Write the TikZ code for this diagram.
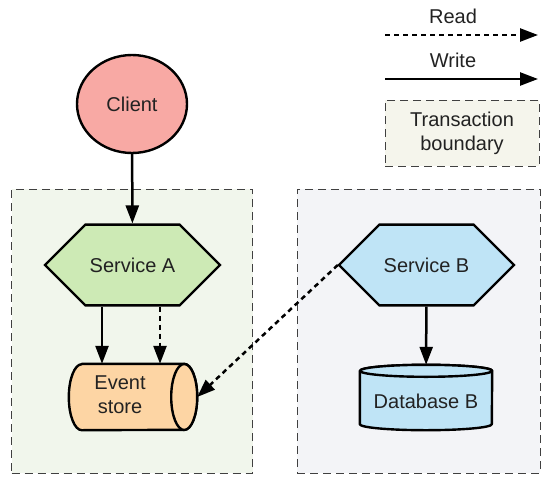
\documentclass[tikz,border=0pt]{standalone}
\usepackage{fontspec}
\setmainfont{Liberation Sans}
\usetikzlibrary{shapes.geometric,shapes.misc,arrows.meta}
\definecolor{bndA}{HTML}{F1F6EC}
\definecolor{bndB}{HTML}{F3F4F7}
\definecolor{bndL}{HTML}{F5F5EC}
\definecolor{clientfill}{HTML}{F8A9A4}
\definecolor{safill}{HTML}{CDEAB5}
\definecolor{esfill}{HTML}{FDD5A4}
\definecolor{sbfill}{HTML}{BFE4F6}
\definecolor{txt}{HTML}{222222}
\tikzset{
  boundary/.style={draw=black!75, line width=1pt, dash pattern=on 8pt off 5pt},
  svc/.style={chamfered rectangle, chamfered rectangle xsep=35pt, chamfered rectangle ysep=33pt,
    minimum width=175pt, minimum height=66pt, inner sep=0pt, draw=black, line width=2.4pt, text=txt},
  lbl/.style={font=\fontsize{20}{24}\selectfont, text=txt},
  wr/.style={line width=2.5pt, -{Triangle[length=18pt,width=13pt]}},
  rd/.style={line width=2.5pt, dash pattern=on 5pt off 4pt, -{Triangle[length=18pt,width=13pt]}},
  outline/.style={draw=black, line width=2.4pt, line join=round},
  holder/.style={rectangle, inner sep=0pt, draw=none},
}
\begin{document}
\begin{tikzpicture}[x=1pt,y=1pt]
\useasboundingbox[fill=white] (0,0) rectangle (554,-479);
% boundaries
\node[boundary, fill=bndA, minimum width=241pt, minimum height=284pt, inner sep=0pt] (bA) at (132,-331) {};
\node[boundary, fill=bndB, minimum width=243pt, minimum height=284pt, inner sep=0pt] (bB) at (418.5,-331) {};
% legend
\node[lbl] (rdt) at (453,-16) {Read};
\node[lbl] (wrt) at (453,-60) {Write};
\coordinate (r1) at (385,-35);
\coordinate (r2) at (538,-35);
\coordinate (w1) at (385,-79);
\coordinate (w2) at (538,-79);
\draw[rd] (r1) -- (r2);
\draw[wr] (w1) -- (w2);
\node[boundary, fill=bndL, minimum width=154pt, minimum height=66pt, inner sep=0pt, lbl, align=center] (leg) at (462,-133) {Transaction\\boundary};
% nodes
\node[ellipse, draw=black, line width=2.4pt, fill=clientfill, minimum width=110pt, minimum height=98pt, lbl] (cl) at (132,-104) {Client};
\node[svc, fill=safill, lbl] (sa) at (132.5,-265) {Service A};
\node[svc, fill=sbfill, lbl] (sb) at (426.5,-265) {Service B};
% Event store (horizontal cylinder)
\node[holder, minimum width=128pt, minimum height=66pt] (es) at (133,-397) {};
\draw[outline, fill=esfill] ([xshift=13pt]es.north west) -- ([xshift=-13pt]es.north east)
  arc[start angle=90, end angle=-90, x radius=13pt, y radius=33pt]
  -- ([xshift=13pt]es.south west)
  arc[start angle=270, end angle=90, x radius=13pt, y radius=33pt] -- cycle;
\draw[outline, fill=esfill] ([xshift=-13pt]es.east) ellipse[x radius=13pt, y radius=33pt];
\node[lbl, align=center] (est) at (120,-395) {Event\\store};
% Database B (vertical cylinder)
\node[holder, minimum width=132pt, minimum height=65pt] (db) at (426,-397.5) {};
\draw[outline, fill=sbfill] ([yshift=-6pt]db.north west) -- ([yshift=6pt]db.south west)
  arc[start angle=180, end angle=360, x radius=66pt, y radius=6pt]
  -- ([yshift=-6pt]db.north east)
  arc[start angle=0, end angle=180, x radius=66pt, y radius=6pt] -- cycle;
\draw[outline, fill=sbfill] ([yshift=-6pt]db.north) ellipse[x radius=66pt, y radius=6pt];
\node[lbl] (dbt) at (426,-401) {Database B};
% connectors
\draw[wr] (cl) -- (sa);
\draw[wr] (sa.south -| 102,0) -- (es.north -| 102,0);
\draw[rd] (sa.south -| 160,0) -- (es.north -| 160,0);
\draw[wr] (sb) -- (db);
\draw[rd] (sb.west) -- (es.east);
\end{tikzpicture}
\end{document}
